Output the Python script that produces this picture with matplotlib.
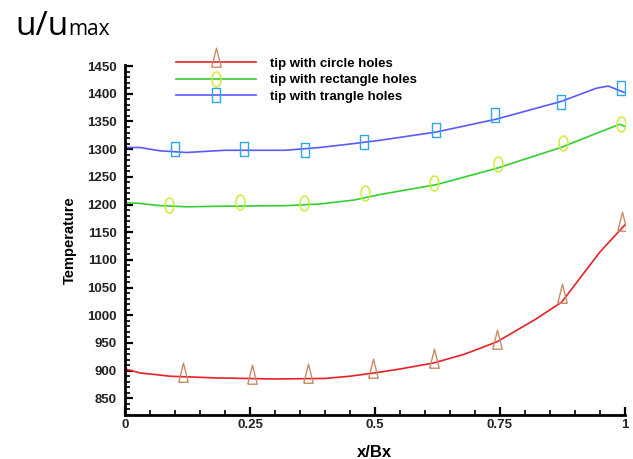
import numpy as np
import matplotlib
matplotlib.use("Agg")
import matplotlib.pyplot as plt
from matplotlib.lines import Line2D
from matplotlib.legend_handler import HandlerLine2D
from matplotlib.ticker import MultipleLocator

# curve samples (x/Bx, temperature)
x_circle_line = [0.0, 0.03, 0.09, 0.18, 0.3, 0.4, 0.45, 0.5, 0.55, 0.618, 0.68, 0.744, 0.82, 0.874, 0.95, 1.0]
t_circle_line = [903, 896, 890, 887, 885, 886, 890, 896, 903, 914, 930, 952, 992, 1024, 1114, 1163]

x_rect_line = [0.0, 0.006, 0.03, 0.07, 0.123, 0.2, 0.32, 0.39, 0.457, 0.51, 0.623, 0.742, 0.872, 0.95, 0.99, 1.0]
t_rect_line = [1204, 1203, 1202, 1198, 1196, 1197, 1198, 1201, 1208, 1218, 1236, 1265, 1303, 1331, 1345, 1341]

x_tri_line = [0.0, 0.006, 0.03, 0.07, 0.123, 0.2, 0.32, 0.39, 0.457, 0.51, 0.623, 0.742, 0.872, 0.943, 0.967, 1.0]
t_tri_line = [1304, 1303, 1303, 1297, 1294, 1298, 1298, 1303, 1310, 1316, 1331, 1354, 1386, 1410, 1414, 1402]

# symbol positions
x_circle_pts = [0.116, 0.254, 0.366, 0.496, 0.618, 0.744, 0.874, 0.994]
t_circle_pts = [889, 885, 886, 895, 914, 948, 1031, 1161]

x_rect_pts = [0.089, 0.23, 0.358, 0.481, 0.618, 0.746, 0.876, 0.992]
t_rect_pts = [1199, 1204, 1202, 1221, 1239, 1273, 1312, 1345]

x_tri_pts = [0.101, 0.238, 0.36, 0.479, 0.623, 0.741, 0.872, 0.993]
t_tri_pts = [1300, 1300, 1299, 1313, 1334, 1362, 1386, 1411]

labels = ["tip with circle holes", "tip with rectangle holes", "tip with trangle holes"]
xtick_vals = [0, 0.25, 0.5, 0.75, 1]
xtick_text = ["0", "0.25", "0.5", "0.75", "1"]

# tall hollow symbols
tri_verts = [(-0.33, -0.33), (0.33, -0.33), (0.0, 1.0), (-0.33, -0.33)]
th = np.linspace(0, 2 * np.pi, 40)
ell_verts = list(zip(0.6 * np.cos(th), np.sin(th)))
sq_verts = [(-0.62, -1.0), (0.62, -1.0), (0.62, 1.0), (-0.62, 1.0), (-0.62, -1.0)]

red, green, blue = "#e8202a", "#33d033", "#5a5aff"
tan, lime, sky = "#c98a64", "#c8ec2a", "#2aa8ee"

tri_style = dict(marker=tri_verts, ms=20.6, mfc="none", mec=tan, mew=1.0)
ell_style = dict(marker=ell_verts, ms=10.8, mfc="none", mec=lime, mew=1.0)
sq_style = dict(marker=sq_verts, ms=9.4, mfc="none", mec=sky, mew=1.0)


class OffsetMarkerHandler(HandlerLine2D):
    # legend symbol sits a little right of the line's middle
    def get_xdata(self, legend, xdescent, ydescent, width, height, fontsize):
        xdata = np.array([-xdescent, -xdescent + width])
        return xdata, np.array([-xdescent + 0.56 * width])


plt.rcParams["font.family"] = ["Liberation Sans", "DejaVu Sans"]

fig = plt.figure(figsize=(6.33, 4.59), dpi=100)
ax = fig.add_axes([0.1975, 0.0959, 0.7895, 0.7625])

ax.plot(x_circle_line, t_circle_line, color=red, lw=1.2)
ax.plot(x_rect_line, t_rect_line, color=green, lw=1.2)
ax.plot(x_tri_line, t_tri_line, color=blue, lw=1.2)

ax.plot(x_circle_pts, t_circle_pts, ls="none", **tri_style)
ax.plot(x_rect_pts, t_rect_pts, ls="none", **ell_style)
ax.plot(x_tri_pts, t_tri_pts, ls="none", **sq_style)

ax.set_xlim(0, 1)
ax.set_ylim(820, 1452)
ax.set_xticks(xtick_vals)
ax.set_xticklabels(xtick_text)
ax.xaxis.set_minor_locator(MultipleLocator(0.05))
ax.yaxis.set_major_locator(MultipleLocator(50))
ax.yaxis.set_minor_locator(MultipleLocator(10))

ax.spines["top"].set_visible(False)
ax.spines["right"].set_visible(False)
ax.spines["left"].set_linewidth(2)
ax.spines["bottom"].set_linewidth(2)
ax.tick_params(which="major", direction="in", length=6, width=1.6,
               labelsize=9.5, colors="black")
ax.tick_params(which="minor", direction="in", length=3.5, width=1.2)
ax.tick_params(axis="y", which="major", pad=6)
ax.tick_params(axis="x", which="major", pad=3)
for lab in ax.get_xticklabels() + ax.get_yticklabels():
    lab.set_fontweight("bold")
    lab.set_color("#222222")

ax.set_xlabel("x/Bx", fontsize=12, fontweight="bold", labelpad=10)
ax.set_ylabel("Temperature", fontsize=10.5, fontweight="bold", labelpad=7)

handles = [
    Line2D([], [], color=red, lw=1.2, **tri_style),
    Line2D([], [], color=green, lw=1.2, **ell_style),
    Line2D([], [], color=blue, lw=1.2, **sq_style),
]
leg = fig.legend(handles, labels, loc="upper left", bbox_to_anchor=(0.278, 0.875),
                 frameon=False, handlelength=6.1, handletextpad=1.0,
                 labelspacing=0.34, borderpad=0, borderaxespad=0,
                 prop={"weight": "bold", "size": 9.5},
                 handler_map={Line2D: OffsetMarkerHandler(numpoints=1)})

fig.text(0.024, 0.924, "u/u", fontsize=24, family="Open Sans", va="baseline")
fig.text(0.1075, 0.924, "max", fontsize=15, family="Open Sans", va="baseline")

fig.savefig("out.png", dpi=100)
